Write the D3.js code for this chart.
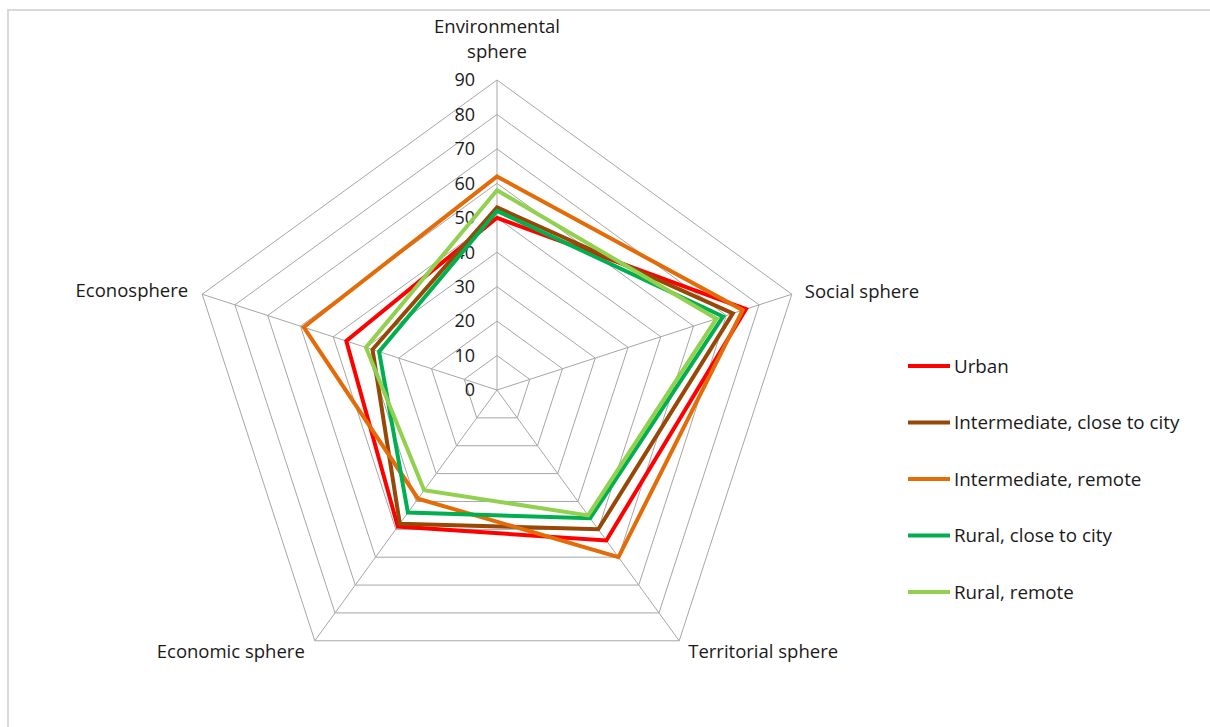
<!DOCTYPE html>
<html>
<head>
<meta charset="utf-8">
<script src="https://cdn.jsdelivr.net/npm/d3@7/dist/d3.min.js"></script>
<style>
  html, body { margin: 0; padding: 0; background: #fff; }
  svg { display: block; }
  text { font-family: "Open Sans", "Liberation Sans", sans-serif; fill: #1a1a1a; }
</style>
</head>
<body>
<svg id="chart" width="1210" height="727"></svg>
<script>
// Spheres (radar axes), clockwise from the top
const axes = ["Environmental sphere", "Social sphere", "Territorial sphere", "Economic sphere", "Econosphere"];
const tickValues = [0, 10, 20, 30, 40, 50, 60, 70, 80, 90];

// Area types and their scores per sphere
const seriesNames = ["Urban", "Intermediate, close to city", "Intermediate, remote", "Rural, close to city", "Rural, remote"];
const urban = [50, 76, 54, 49, 46];
const intermediateClose = [53, 72, 50, 48, 38];
const intermediateRemote = [62, 75, 60, 39, 59];
const ruralClose = [52, 69, 46, 44, 36];
const ruralRemote = [58, 67, 45, 36, 40];
const seriesValues = [urban, intermediateClose, intermediateRemote, ruralClose, ruralRemote];
const seriesColors = ["#ff0000", "#974706", "#e36c09", "#00b050", "#92d050"];

const svg = d3.select("#chart");
const cx = 497, cy = 390;
const r = d3.scaleLinear().domain([0, 90]).range([0, 310]);
const angle = d3.scaleLinear().domain([0, axes.length]).range([0, 2 * Math.PI]);

function pt(i, v) {
  const a = angle(i);
  return [cx + r(v) * Math.sin(a), cy - r(v) * Math.cos(a)];
}

// Outer frame
svg.append("path")
  .attr("d", "M8,727 L8,10 L1212,10")
  .attr("fill", "none")
  .attr("stroke", "#d9d9d9")
  .attr("stroke-width", 2);

// Grid pentagons
const g = svg.append("g");
tickValues.slice(1).forEach(t => {
  const pts = axes.map((_, i) => pt(i, t));
  g.append("polygon")
    .attr("points", pts.map(p => p.join(",")).join(" "))
    .attr("fill", "none")
    .attr("stroke", "#a6a6a6")
    .attr("stroke-width", 1);
});

// Spokes
axes.forEach((_, i) => {
  const [x, y] = pt(i, 90);
  g.append("line")
    .attr("x1", cx).attr("y1", cy).attr("x2", x).attr("y2", y)
    .attr("stroke", "#a6a6a6").attr("stroke-width", 1);
});

// Value labels along the top spoke
svg.append("g").selectAll("text")
  .data(tickValues)
  .join("text")
  .attr("x", cx - 22)
  .attr("y", d => cy - r(d))
  .attr("dy", "0.35em")
  .attr("text-anchor", "end")
  .attr("font-size", 18)
  .text(d => d);

// Sphere labels
const labelSize = 18.5;
const lab = svg.append("g").attr("font-size", labelSize);
{
  const [x, y] = pt(0, 90);
  const t = lab.append("text").attr("text-anchor", "middle");
  t.append("tspan").attr("x", x).attr("y", y - 53).attr("dy", "0.35em").text("Environmental");
  t.append("tspan").attr("x", x).attr("y", y - 28).attr("dy", "0.35em").text("sphere");
}
{
  const [x, y] = pt(1, 90);
  lab.append("text").attr("x", x + 13).attr("y", y - 3).attr("dy", "0.35em").text(axes[1]);
}
{
  const [x, y] = pt(2, 90);
  lab.append("text").attr("x", x + 9).attr("y", y + 11).attr("dy", "0.35em").text(axes[2]);
}
{
  const [x, y] = pt(3, 90);
  lab.append("text").attr("x", x - 10).attr("y", y + 11).attr("dy", "0.35em").attr("text-anchor", "end").text(axes[3]);
}
{
  const [x, y] = pt(4, 90);
  lab.append("text").attr("x", x - 14).attr("y", y - 4).attr("dy", "0.35em").attr("text-anchor", "end").text(axes[4]);
}

// Series outlines
const line = d3.line().curve(d3.curveLinearClosed);
seriesValues.forEach((vals, s) => {
  svg.append("path")
    .attr("d", line(vals.map((v, i) => pt(i, v))))
    .attr("fill", "none")
    .attr("stroke", seriesColors[s])
    .attr("stroke-width", 4)
    .attr("stroke-linejoin", "miter");
});

// Legend
const legend = svg.append("g").attr("transform", "translate(908,366)");
const ly = d3.scalePoint().domain(seriesNames).range([0, 226]);
seriesNames.forEach((name, s) => {
  const y = ly(name);
  legend.append("line")
    .attr("x1", 0).attr("x2", 42).attr("y1", y).attr("y2", y)
    .attr("stroke", seriesColors[s]).attr("stroke-width", 4);
  legend.append("text")
    .attr("x", 46).attr("y", y).attr("dy", "0.35em")
    .attr("font-size", 18.8)
    .text(name);
});
</script>
</body>
</html>
